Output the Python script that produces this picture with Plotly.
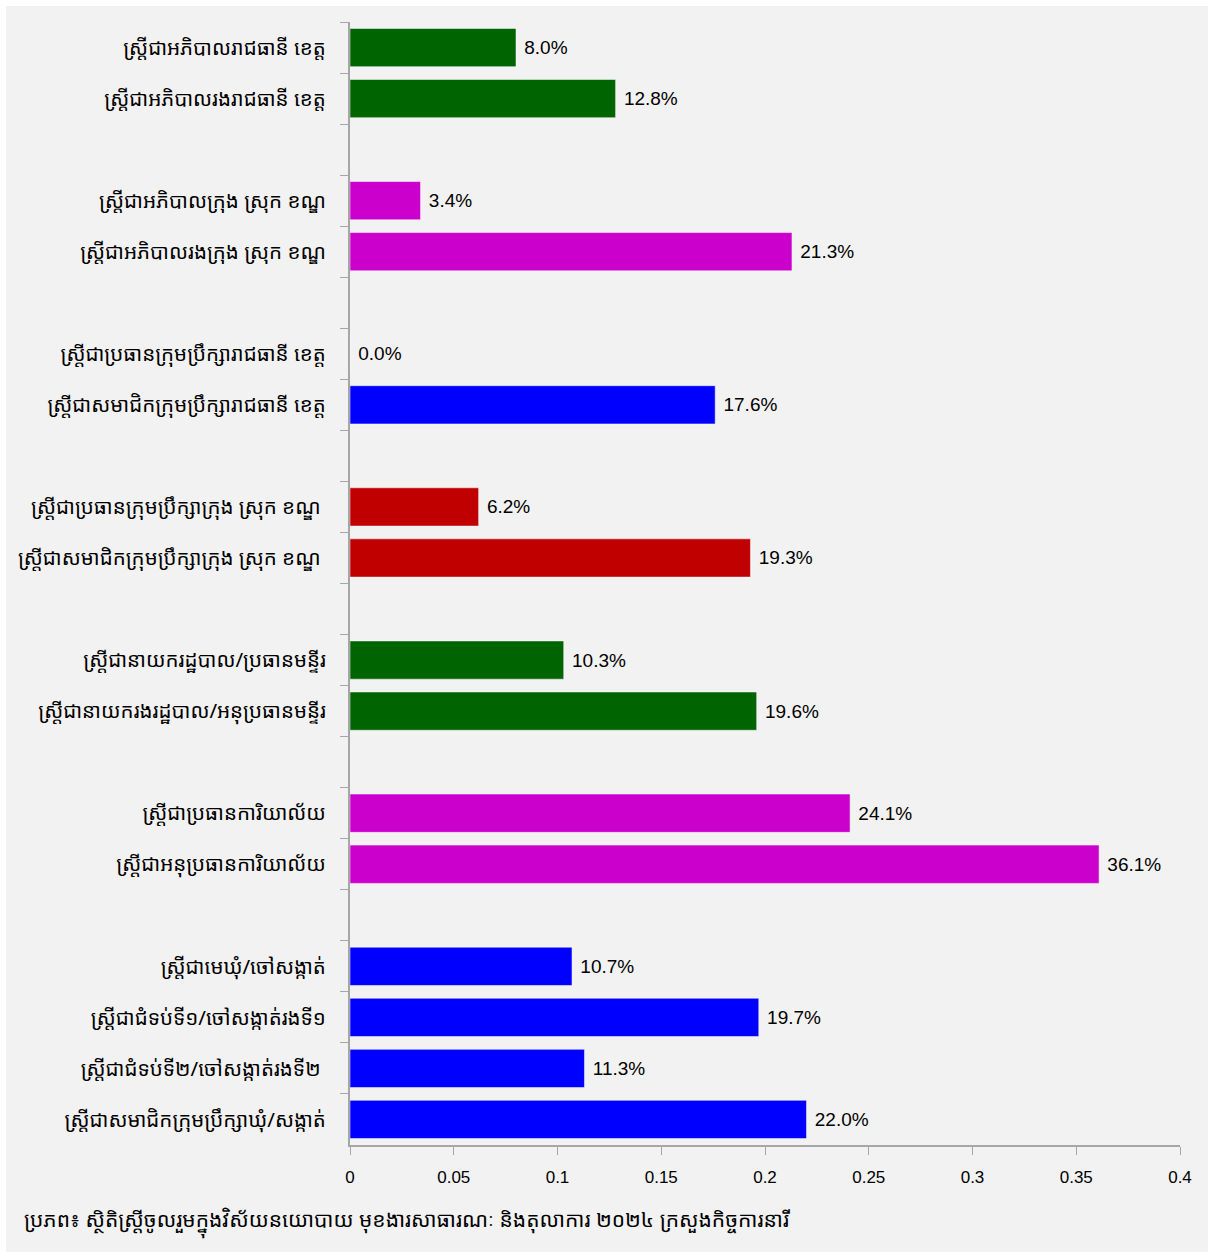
import plotly.graph_objects as go

labels = [
    "ស្ត្រីជាអភិបាលរាជធានី ខេត្ត",
    "ស្ត្រីជាអភិបាលរងរាជធានី ខេត្ត",
    None,
    "ស្ត្រីជាអភិបាលក្រុង ស្រុក ខណ្ឌ",
    "ស្ត្រីជាអភិបាលរងក្រុង ស្រុក ខណ្ឌ",
    None,
    "ស្ត្រីជាប្រធានក្រុមប្រឹក្សារាជធានី ខេត្ត",
    "ស្ត្រីជាសមាជិកក្រុមប្រឹក្សារាជធានី ខេត្ត",
    None,
    "ស្ត្រីជាប្រធានក្រុមប្រឹក្សាក្រុង ស្រុក ខណ្ឌ\u00a0",
    "ស្ត្រីជាសមាជិកក្រុមប្រឹក្សាក្រុង ស្រុក ខណ្ឌ\u00a0",
    None,
    "ស្ត្រីជានាយករដ្ឋបាល/ប្រធានមន្ទីរ",
    "ស្ត្រីជានាយករងរដ្ឋបាល/អនុប្រធានមន្ទីរ",
    None,
    "ស្ត្រីជាប្រធានការិយាល័យ",
    "ស្ត្រីជាអនុប្រធានការិយាល័យ",
    None,
    "ស្ត្រីជាមេឃុំ/ចៅសង្កាត់",
    "ស្ត្រីជាជំទប់ទី១/ចៅសង្កាត់រងទី១",
    "ស្ត្រីជាជំទប់ទី២/ចៅសង្កាត់រងទី២\u00a0",
    "ស្ត្រីជាសមាជិកក្រុមប្រឹក្សាឃុំ/សង្កាត់",
]
values = [0.080, 0.128, None, 0.034, 0.213, None, 0.0, 0.176, None,
          0.062, 0.193, None, 0.103, 0.196, None, 0.241, 0.361, None,
          0.107, 0.197, 0.113, 0.220]
colors = ["#006400", "#006400", None, "#CC00CC", "#CC00CC", None,
          "#0000FF", "#0000FF", None, "#C00000", "#C00000", None,
          "#006400", "#006400", None, "#CC00CC", "#CC00CC", None,
          "#0000FF", "#0000FF", "#0000FF", "#0000FF"]
x_ticks = [0, 0.05, 0.1, 0.15, 0.2, 0.25, 0.3, 0.35, 0.4]
x_ticktext = ["0", "0.05", "0.1", "0.15", "0.2", "0.25", "0.3", "0.35", "0.4"]
source = "ប្រភព៖ ស្ថិតិស្ត្រីចូលរួមក្នុងវិស័យនយោបាយ មុខងារសាធារណៈ និងតុលាការ ២០២៤ ក្រសួងកិច្ចការនារី"

# unique blank names for gap categories
cats = []
gap = 0
for lab in labels:
    if lab is None:
        gap += 1
        cats.append("\u00a0" * gap)
    else:
        cats.append(lab)

texts = ["" if v is None else "\u00a0" + f"{v*100:.1f}%" for v in values]
mcolors = ["rgba(0,0,0,0)" if c is None else c for c in colors]

KHMER = "Noto Sans Khmer, Khmer OS, Khmer OS System, Noto Serif Khmer, sans-serif"
NUM = "Liberation Sans, Arial, sans-serif"

fig = go.Figure(go.Bar(
    x=values, y=cats, orientation="h",
    marker=dict(color=mcolors, line=dict(color="rgba(255,255,255,0.5)", width=1)),
    text=texts, textposition="outside", cliponaxis=False,
    textfont=dict(family=NUM, size=19, color="#000000"),
    hoverinfo="skip",
))

# white strips along the top and left edge of the page
L, R, T, B, W, H = 350, 28, 22, 107, 1208, 1252
pw, ph = W - L - R, H - T - B
shapes = [
    dict(type="rect", xref="paper", yref="paper", layer="above",
         x0=-L / pw, x1=(W - L) / pw, y0=1 + (T - 6) / ph, y1=1 + T / ph,
         fillcolor="white", line=dict(width=0)),
    dict(type="rect", xref="paper", yref="paper", layer="above",
         x0=-L / pw, x1=(6 - L) / pw, y0=-B / ph, y1=1 + T / ph,
         fillcolor="white", line=dict(width=0)),
]

fig.update_layout(
    width=W, height=H,
    paper_bgcolor="#f2f2f2", plot_bgcolor="#f2f2f2",
    margin=dict(l=L, r=R, t=T, b=B, autoexpand=False),
    bargap=0.25, showlegend=False,
    font=dict(family=KHMER, color="#000000"),
    xaxis=dict(
        range=[0, 0.4], tickvals=x_ticks, ticktext=x_ticktext,
        showgrid=False, zeroline=False, showline=True, automargin=False,
        linecolor="#a6a6a6", linewidth=2,
        ticks="outside", ticklen=8, tickcolor="#a6a6a6", tickwidth=1,
        tickfont=dict(family=NUM, size=17, color="#000000"),
        ticklabelstandoff=8,
    ),
    yaxis=dict(
        type="category", categoryorder="array", categoryarray=cats,
        autorange="reversed", automargin=False,
        showgrid=False, zeroline=False, showline=True,
        linecolor="#a6a6a6", linewidth=2,
        ticks="outside", ticklen=8, tickcolor="#a6a6a6", tickwidth=1,
        tickson="boundaries",
        tickfont=dict(family=KHMER, size=20.5, color="#000000"),
        ticklabelstandoff=18,
    ),
    shapes=shapes,
    annotations=[dict(
        text=source, xref="paper", yref="paper", x=(22 - L) / pw, y=-(1222 - (H - B)) / ph,
        xanchor="left", yanchor="middle", showarrow=False,
        font=dict(family=KHMER, size=21, color="#000000"),
    )],
)

fig.write_html("out.html")
